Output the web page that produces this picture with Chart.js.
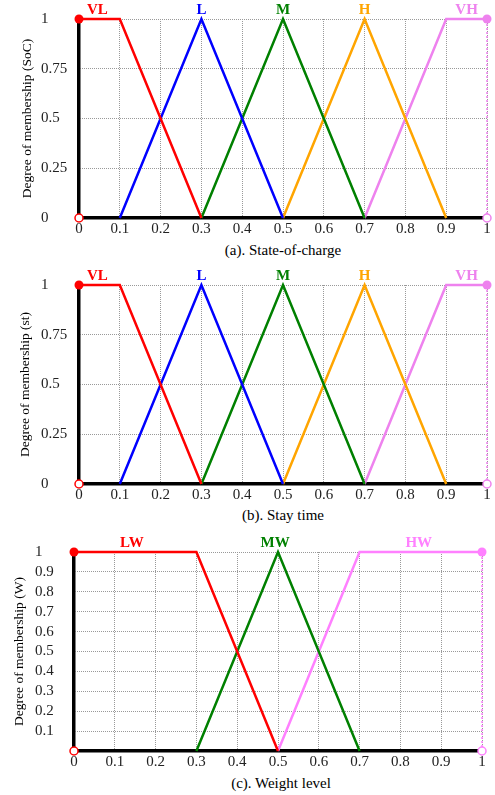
<!DOCTYPE html>
<html>
<head>
<meta charset="utf-8">
<script src="https://cdn.jsdelivr.net/npm/chart.js@4.4.1/dist/chart.umd.min.js"></script>
<style>
  body { margin: 0; background: #fff; width: 495px; height: 795px; position: relative; overflow: hidden;
         font-family: "Liberation Serif", "Times New Roman", serif; }
  .box { position: absolute; left: 0; width: 495px; height: 240px; }
  .cap { position: absolute; font-size: 15px; line-height: 16px; color: #000; white-space: nowrap;
         transform: translateX(-50%); }
</style>
</head>
<body>
<div class="box" style="top:0"><canvas id="socChart" width="495" height="240"></canvas></div>
<div class="cap" style="top:242px;left:283px">(a). State-of-charge</div>
<div class="box" style="top:266px"><canvas id="stChart" width="495" height="240"></canvas></div>
<div class="cap" style="top:507px;left:283px">(b). Stay time</div>
<div class="box" style="top:533px"><canvas id="wChart" width="495" height="240"></canvas></div>
<div class="cap" style="top:775px;left:281px">(c). Weight level</div>

<script>
// x ticks shared by all three panels
const xTicks = [0, 0.1, 0.2, 0.3, 0.4, 0.5, 0.6, 0.7, 0.8, 0.9, 1];

// (a) State-of-charge
const socNames = ["VL", "L", "M", "H", "VH"];
const socLabelX = [0.045, 0.3, 0.5, 0.7, 0.95];
const socVL = [[0, 1], [0.1, 1], [0.3, 0]];
const socL = [[0.1, 0], [0.3, 1], [0.5, 0]];
const socM = [[0.3, 0], [0.5, 1], [0.7, 0]];
const socH = [[0.5, 0], [0.7, 1], [0.9, 0]];
const socVH = [[0.7, 0], [0.9, 1], [1, 1]];
const socYTicks = [0, 0.25, 0.5, 0.75, 1];

// (b) Stay time
const stNames = ["VL", "L", "M", "H", "VH"];
const stLabelX = [0.045, 0.3, 0.5, 0.7, 0.95];
const stVL = [[0, 1], [0.1, 1], [0.3, 0]];
const stL = [[0.1, 0], [0.3, 1], [0.5, 0]];
const stM = [[0.3, 0], [0.5, 1], [0.7, 0]];
const stH = [[0.5, 0], [0.7, 1], [0.9, 0]];
const stVH = [[0.7, 0], [0.9, 1], [1, 1]];
const stYTicks = [0, 0.25, 0.5, 0.75, 1];

// (c) Weight level
const wNames = ["LW", "MW", "HW"];
const wLabelX = [0.142, 0.493, 0.845];
const wLW = [[0, 1], [0.3, 1], [0.5, 0]];
const wMW = [[0.3, 0], [0.5, 1], [0.7, 0]];
const wHW = [[0.5, 0], [0.7, 1], [1, 1]];
const wYTicks = [0.1, 0.2, 0.3, 0.4, 0.5, 0.6, 0.7, 0.8, 0.9, 1];

const FONT = "'Liberation Serif', 'Times New Roman', serif";
const pts = arr => arr.map(([x, y]) => ({ x, y }));

// set names above the peaks + rotated y title
const overlay = {
  id: "overlay",
  afterDatasetsDraw(chart, args, o) {
    const { ctx, chartArea, scales: { x, y } } = chart;
    ctx.save();
    ctx.font = "bold 15px " + FONT;
    ctx.textAlign = "center";
    ctx.textBaseline = "middle";
    o.names.forEach((n, i) => {
      ctx.fillStyle = o.colors[i];
      ctx.fillText(n, x.getPixelForValue(o.xs[i]), y.getPixelForValue(1) - 9);
    });
    ctx.translate(o.titleX, (chartArea.top + chartArea.bottom) / 2);
    ctx.rotate(-Math.PI / 2);
    ctx.font = "13.5px " + FONT;
    ctx.fillStyle = "#000";
    ctx.fillText(o.title, 0, 0);
    ctx.restore();
  }
};

function lineSet(data, color, radii) {
  return {
    data: pts(data), borderColor: color, backgroundColor: color, borderWidth: 2.5,
    pointRadius: radii || 0, pointBackgroundColor: color, pointBorderWidth: 0,
    showLine: true, tension: 0, clip: false
  };
}

function hollow(data, color, dashed) {
  return {
    data: pts(data), borderColor: color, backgroundColor: "#fff", borderWidth: 1.5,
    borderDash: dashed ? [2, 2] : [], pointRadius: data.map((p, i) => i === 0 ? 4 : 0),
    pointBackgroundColor: "#fff", pointBorderColor: color, pointBorderWidth: 1.5,
    showLine: !!dashed, clip: false
  };
}

function build(id, sets, colors, names, labelX, yTicks, cfg) {
  const datasets = sets.map((s, i) => {
    let r = 0;
    if (i === 0) r = s.map((p, k) => k === 0 ? 4.5 : 0);
    if (i === sets.length - 1) r = s.map((p, k) => k === s.length - 1 ? 4.5 : 0);
    return lineSet(s, colors[i], r);
  });
  const last = colors[colors.length - 1];
  datasets.push(hollow([[0, 0]], colors[0], false));
  datasets.push(hollow([[1, 0], [1, 1]], last, true));

  return new Chart(document.getElementById(id), {
    type: "scatter",
    data: { datasets },
    options: {
      responsive: false,
      animation: false,
      layout: { padding: { left: cfg.left, top: 19, right: cfg.right, bottom: 0 } },
      plugins: {
        legend: { display: false },
        tooltip: { enabled: false },
        overlay: { names, colors, xs: labelX, title: cfg.title, titleX: cfg.titleX }
      },
      scales: {
        x: {
          type: "linear", min: 0, max: 1,
          afterBuildTicks: s => { s.ticks = xTicks.map(v => ({ value: v })); },
          afterFit: s => { s.height = 22; },
          ticks: { color: "#222", padding: 2, font: { family: FONT, size: 15 }, callback: v => String(v), maxRotation: 0 },
          grid: { color: "#999", lineWidth: 1, drawTicks: false },
          border: { display: true, color: "#000", width: 3.5, dash: [1, 1] }
        },
        y: {
          type: "linear", min: 0, max: 1,
          afterBuildTicks: s => { s.ticks = yTicks.map(v => ({ value: v })); },
          afterFit: s => { s.width = cfg.axisW; },
          ticks: { color: "#222", crossAlign: "far", font: { family: FONT, size: 15 }, callback: v => String(v) },
          grid: { color: "#999", lineWidth: 1, drawTicks: false },
          border: { display: true, color: "#000", width: 3.5, dash: [1, 1], dashOffset: 0.5 }
        }
      }
    },
    plugins: [overlay]
  });
}

const fiveColors = ["#ff0000", "#0000ff", "#008000", "#ffa500", "#ee82ee"];

build("socChart", [socVL, socL, socM, socH, socVH], fiveColors, socNames, socLabelX, socYTicks,
  { left: 41, right: 8, axisW: 38, title: "Degree of membership (SoC)", titleX: 27 });
build("stChart", [stVL, stL, stM, stH, stVH], fiveColors, stNames, stLabelX, stYTicks,
  { left: 41, right: 8, axisW: 38, title: "Degree of membership (st)", titleX: 25 });
build("wChart", [wLW, wMW, wHW], ["#ff0000", "#008000", "#ff80ff"], wNames, wLabelX, wYTicks,
  { left: 35, right: 13, axisW: 39, title: "Degree of membership (W)", titleX: 19 });
</script>
</body>
</html>
